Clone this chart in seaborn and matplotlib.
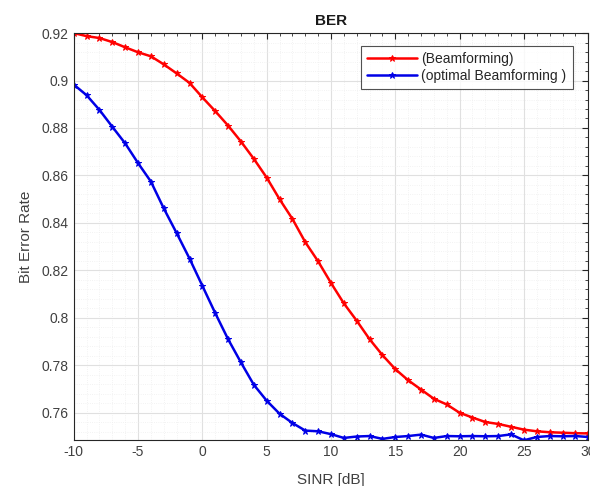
import numpy as np
import matplotlib
matplotlib.use('Agg')
import matplotlib.pyplot as plt
from matplotlib.ticker import AutoMinorLocator, MultipleLocator
import seaborn as sns

# SINR axis (dB) and BER for the two curves
snr_db = list(range(-10, 31))
ber_beamforming = [
  0.9200, 0.9187, 0.9179, 0.9162, 0.9140, 0.9119, 0.9102, 0.9068, 0.9030, 0.8990,
  0.8929, 0.8871, 0.8810, 0.8743, 0.8670, 0.8591, 0.8500, 0.8417, 0.8319, 0.8238,
  0.8147, 0.8061, 0.7988, 0.7910, 0.7843, 0.7784, 0.7737, 0.7698, 0.7659, 0.7635,
  0.7600, 0.7580, 0.7561, 0.7553, 0.7541, 0.7529, 0.7522, 0.7518, 0.7516, 0.7514,
  0.7513,
]
ber_optimal = [
  0.8983, 0.8938, 0.8876, 0.8805, 0.8735, 0.8652, 0.8574, 0.8461, 0.8357, 0.8250,
  0.8135, 0.8020, 0.7910, 0.7812, 0.7718, 0.7651, 0.7596, 0.7557, 0.7525, 0.7522,
  0.7510, 0.7494, 0.7500, 0.7502, 0.7490, 0.7498, 0.7502, 0.7508, 0.7494, 0.7502,
  0.7501, 0.7502, 0.7501, 0.7502, 0.7509, 0.7484, 0.7498, 0.7502, 0.7501, 0.7502,
  0.7498,
]
series_labels = ['(Beamforming)', '(optimal Beamforming )']
series_colors = ['#ff0000', '#0000e6']

sns.set_style('white')
plt.rcParams['font.family'] = ['Liberation Sans', 'DejaVu Sans']
plt.rcParams['axes.unicode_minus'] = False

fig = plt.figure(figsize=(5.9, 4.86), dpi=100)
ax = fig.add_axes([0.125, 0.094, 0.872, 0.838])

for ber, label, color in zip([ber_beamforming, ber_optimal], series_labels, series_colors):
  sns.lineplot(
    x=snr_db, y=ber, label=label, color=color, marker='*', markersize=5,
    markeredgecolor=color, markerfacecolor=color, markeredgewidth=0.7,
    linewidth=1.8, ax=ax,
  )

ax.set_xlim(-10, 30)
ax.set_ylim(min(ber_optimal), max(ber_beamforming))
ax.xaxis.set_major_locator(MultipleLocator(5))
ax.xaxis.set_minor_locator(AutoMinorLocator(5))
ax.yaxis.set_minor_locator(AutoMinorLocator(5))
ax.set_yticks(np.arange(0.76, 0.921, 0.02))
ax.set_yticklabels(['0.76', '0.78', '0.8', '0.82', '0.84', '0.86', '0.88', '0.9', '0.92'])
ax.grid(which='major', color='#e0e0e0', linewidth=0.8)
ax.grid(which='minor', color='#efefef', linewidth=0.6, linestyle=':')
ax.set_axisbelow(True)

for side in ['left', 'bottom', 'top', 'right']:
  ax.spines[side].set_visible(True)
  ax.spines[side].set_color('#262626')
  ax.spines[side].set_linewidth(0.8)
ax.tick_params(which='both', direction='in', top=True, right=True, colors='#262626',
               labelcolor='#404040', labelsize=10)
ax.tick_params(which='major', length=4)
ax.tick_params(which='minor', length=2)

ax.set_title('BER', fontsize=11, fontweight='bold', color='#1a1a1a', pad=6)
ax.set_xlabel('SINR [dB]', fontsize=11, color='#404040', labelpad=10)
ax.set_ylabel('Bit Error Rate', fontsize=11, color='#404040', labelpad=6)

leg = ax.legend(loc='upper right', bbox_to_anchor=(0.975, 0.975), fontsize=10,
                frameon=True, fancybox=False, handlelength=3.6, borderpad=0.45,
                labelspacing=0.2, handletextpad=0.3, borderaxespad=0.2)
leg.get_frame().set_edgecolor('#262626')
leg.get_frame().set_linewidth(0.8)

plt.savefig('out.png', dpi=100)
